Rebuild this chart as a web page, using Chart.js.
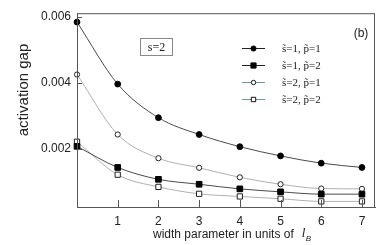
<!DOCTYPE html>
<html>
<head>
<meta charset="utf-8">
<script src="https://cdn.jsdelivr.net/npm/chart.js@4.4.1/dist/chart.umd.min.js"></script>
<style>
  html, body { margin: 0; padding: 0; background: #fff; }
  #wrap { width: 380px; height: 245px; }
</style>
</head>
<body>
<div id="wrap"><canvas id="gapChart" width="380" height="245"></canvas></div>
<script>
// width parameter (units of l_B)
const widths = [0, 1, 2, 3, 4, 5, 6, 7];
const s1p1 = [0.00584, 0.00396, 0.00294, 0.00243, 0.00206, 0.00178, 0.00156, 0.00143];
const s1p2 = [0.00207, 0.00143, 0.00107, 0.00092, 0.00078, 0.00069, 0.00062, 0.00062];
const s2p1 = [0.00425, 0.00243, 0.00171, 0.00142, 0.00113, 0.00092, 0.00079, 0.00078];
const s2p2 = [0.00221, 0.00121, 0.00084, 0.00063, 0.00055, 0.00048, 0.00040, 0.00040];
const xTicks = [1, 2, 3, 4, 5, 6, 7];
const yTicks = [0.002, 0.004, 0.006];
const legendLabels = ['s\u0303=1, p\u0303=1', 's\u0303=1, p\u0303=2', 's\u0303=2, p\u0303=1', 's\u0303=2, p\u0303=2'];

const darkLine = '#4a4a4a';
const lightLine = '#b0b0b0';

function series(values) {
    return values.map((v, i) => ({ x: widths[i], y: v }));
}

function marker(ctx, style, x, y, fill) {
    ctx.save();
    ctx.lineWidth = 1;
    ctx.strokeStyle = '#111';
    ctx.fillStyle = fill;
    ctx.beginPath();
    if (style === 'circle') {
        ctx.arc(x, y, fill === '#fff' ? 2.2 : 2.6, 0, Math.PI * 2);
    } else {
        const h = fill === '#fff' ? 2.2 : 2.6;
        ctx.rect(x - h, y - h, h * 2, h * 2);
    }
    ctx.fill();
    ctx.stroke();
    ctx.restore();
}

const extras = {
    id: 'extras',
    afterDraw(chart) {
        const ctx = chart.ctx;
        const a = chart.chartArea;
        const xs = chart.scales.x, ys = chart.scales.y;
        ctx.save();
        // frame
        ctx.strokeStyle = '#555';
        ctx.lineWidth = 1;
        ctx.strokeRect(a.left + 0.5, a.top + 0.5, a.right - a.left - 1, a.bottom - a.top);
        // inward ticks
        ctx.beginPath();
        xTicks.forEach(v => {
            const px = Math.round(xs.getPixelForValue(v)) + 0.5;
            ctx.moveTo(px, a.bottom);
            ctx.lineTo(px, a.bottom - 7);
        });
        yTicks.forEach(v => {
            const py = Math.round(ys.getPixelForValue(v)) + 0.5;
            ctx.moveTo(a.left, py);
            ctx.lineTo(a.left + 5, py);
        });
        ctx.stroke();

        // legend
        const styles = ['circle', 'rect', 'circle', 'rect'];
        const fills = ['#000', '#000', '#fff', '#fff'];
        const lineCols = ['#222', '#222', '#6f9a9a', '#6f9a9a'];
        const rows = [48, 65, 82, 99];
        rows.forEach((ry, i) => {
            ctx.strokeStyle = lineCols[i];
            ctx.beginPath();
            ctx.moveTo(242, ry + 0.5);
            ctx.lineTo(265, ry + 0.5);
            ctx.stroke();
            marker(ctx, styles[i], 253.5, ry + 0.5, fills[i]);
            ctx.fillStyle = '#222';
            ctx.font = '11px "Liberation Serif"';
            ctx.textAlign = 'left';
            ctx.textBaseline = 'middle';
            ctx.fillText(legendLabels[i], 282, ry + 1);
        });

        // (b)
        ctx.fillStyle = '#222';
        ctx.font = '12px "Liberation Sans"';
        ctx.textAlign = 'center';
        ctx.fillText('(b)', 361, 34);

        // s=2 box
        ctx.strokeStyle = '#888';
        ctx.strokeRect(140.5, 38.5, 32, 17);
        ctx.font = '12px "Liberation Serif"';
        ctx.fillStyle = '#222';
        ctx.fillText('s=2', 156.5, 47.5);

        // axis titles
        ctx.font = '15px "Liberation Sans"';
        ctx.save();
        ctx.translate(24, 90);
        ctx.rotate(-Math.PI / 2);
        ctx.fillText('activation gap', 0, 0);
        ctx.restore();

        ctx.font = '12px "Liberation Sans"';
        ctx.textAlign = 'left';
        const t = 'width parameter in units of';
        ctx.fillText(t, 153, 235);
        const w = ctx.measureText(t).width;
        ctx.font = 'italic 13px "Liberation Serif"';
        ctx.fillText('l', 153 + w + 8, 234);
        ctx.font = 'italic 8px "Liberation Sans"';
        ctx.fillText('B', 153 + w + 12, 239);
        ctx.restore();
    }
};

new Chart(document.getElementById('gapChart').getContext('2d'), {
    type: 'line',
    data: {
        datasets: [
            { label: legendLabels[0], data: series(s1p1), borderColor: darkLine, pointStyle: 'circle', pointRadius: 2.9, pointBackgroundColor: '#000', pointBorderColor: '#000' },
            { label: legendLabels[1], data: series(s1p2), borderColor: darkLine, pointStyle: 'rect', pointRadius: 4, pointBackgroundColor: '#000', pointBorderColor: '#000' },
            { label: legendLabels[2], data: series(s2p1), borderColor: lightLine, pointStyle: 'circle', pointRadius: 2.6, pointBackgroundColor: '#fff', pointBorderColor: '#222' },
            { label: legendLabels[3], data: series(s2p2), borderColor: lightLine, pointStyle: 'rect', pointRadius: 3.7, pointBackgroundColor: '#fff', pointBorderColor: '#222' }
        ].map(d => Object.assign(d, { borderWidth: 1, cubicInterpolationMode: 'monotone', fill: false, clip: false, pointBorderWidth: 1 }))
    },
    options: {
        responsive: false,
        animation: false,
        layout: { padding: { left: 0, top: 10, right: 5, bottom: 0 } },
        plugins: { legend: { display: false }, tooltip: { enabled: false } },
        scales: {
            x: {
                type: 'linear',
                min: 0,
                max: 7.32,
                afterBuildTicks: s => { s.ticks = xTicks.map(v => ({ value: v })); },
                afterFit: s => { s.height = 38; },
                grid: { drawOnChartArea: false, drawTicks: false },
                border: { color: '#555' },
                ticks: { padding: 7, color: '#222', font: { family: 'Liberation Sans', size: 12 } }
            },
            y: {
                min: 0.00023,
                max: 0.00611,
                afterBuildTicks: s => { s.ticks = yTicks.map(v => ({ value: v })); },
                afterFit: s => { s.width = 77; },
                grid: { drawOnChartArea: false, drawTicks: false },
                border: { color: '#555' },
                ticks: { padding: 6, color: '#222', font: { family: 'Liberation Sans', size: 12 }, callback: v => v.toFixed(3) }
            }
        }
    },
    plugins: [extras]
});
</script>
</body>
</html>
